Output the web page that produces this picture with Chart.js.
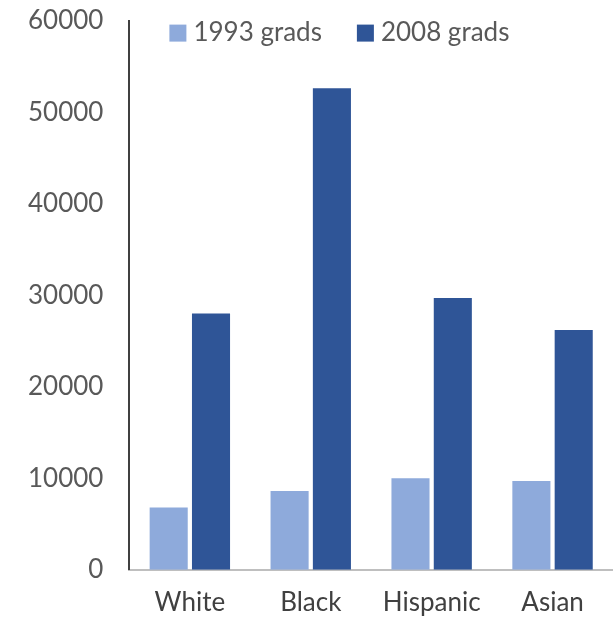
<!DOCTYPE html>
<html>
<head>
<meta charset="utf-8">
<script src="https://cdn.jsdelivr.net/npm/chart.js@4"></script>
<style>
html, body { margin: 0; padding: 0; background: #fff; overflow: hidden; }
#wrap { width: 613px; height: 650px; margin-top: -15px; }
</style>
</head>
<body>
<div id="wrap"><canvas id="chart"></canvas></div>
<script>
var categories = ['White', 'Black', 'Hispanic', 'Asian'];
var grads1993 = [6800, 8600, 10000, 9700];
var grads2008 = [28000, 52600, 29700, 26200];
var yTicks = [0, 10000, 20000, 30000, 40000, 50000, 60000];

var fontFamily = 'Lato, "Open Sans", sans-serif';

// legend drawn inside the plot area, along its top edge
var topLegend = {
   id: 'topLegend',
   afterDraw: function(chart) {
      var ctx = chart.ctx;
      var area = chart.chartArea;
      var x = area.left + 40;
      var y = area.top + 12;
      ctx.save();
      ctx.font = '26px ' + fontFamily;
      ctx.textBaseline = 'middle';
      chart.data.datasets.forEach(function(ds) {
         ctx.fillStyle = ds.backgroundColor;
         ctx.fillRect(x, y - 8, 17, 17);
         ctx.fillStyle = '#595959';
         ctx.fillText(ds.label, x + 24, y);
         x += 24 + ctx.measureText(ds.label).width + 35;
      });
      ctx.restore();
   }
};

new Chart(document.getElementById('chart'), {
   type: 'bar',
   data: {
      labels: categories,
      datasets: [{
         label: '1993 grads',
         data: grads1993,
         backgroundColor: '#8eaadb'
      }, {
         label: '2008 grads',
         data: grads2008,
         backgroundColor: '#2f5597'
      }]
   },
   plugins: [topLegend],
   options: {
      responsive: true,
      maintainAspectRatio: false,
      animation: false,
      layout: { padding: { top: 4, right: 0, bottom: 0, left: 8 } },
      datasets: { bar: { categoryPercentage: 0.7, barPercentage: 0.9 } },
      plugins: {
         tooltip: { enabled: false },
         legend: { display: false }
      },
      scales: {
         x: {
            grid: { display: false, drawTicks: false },
            border: { color: '#bfbfbf', width: 2 },
            ticks: { color: '#404040', padding: 17, font: { family: fontFamily, size: 26 } }
         },
         y: {
            min: 0, max: 60000,
            afterBuildTicks: function(axis) {
               axis.ticks = yTicks.map(function(v) { return { value: v }; });
            },
            grid: { display: false, drawTicks: true, tickLength: 6, tickColor: '#404040' },
            border: { color: '#404040', width: 2 },
            ticks: {
               color: '#595959', padding: 20, font: { family: fontFamily, size: 26 },
               callback: function(v) { return String(v); }
            }
         }
      }
   }
});
</script>
</body>
</html>
